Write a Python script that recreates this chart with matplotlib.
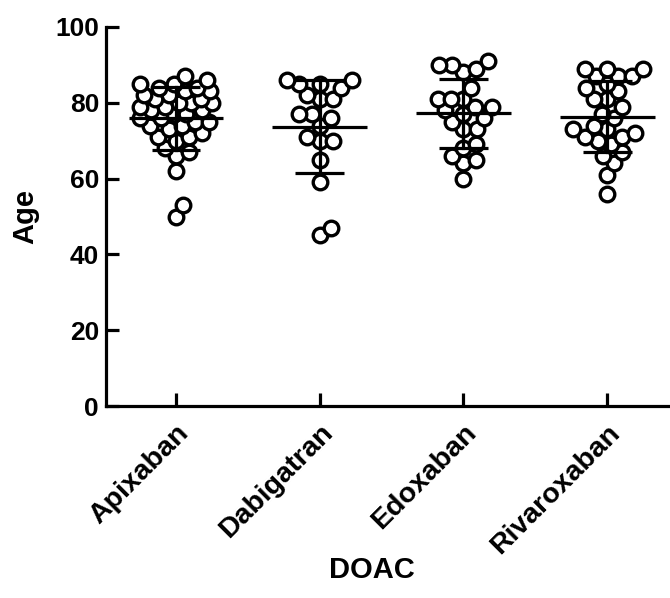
import numpy as np
import matplotlib
matplotlib.use("Agg")
import matplotlib.pyplot as plt

plt.rcParams['font.family'] = ['Liberation Sans', 'DejaVu Sans']
plt.rcParams['font.weight'] = 'bold'

categories = ["Apixaban", "Dabigatran", "Edoxaban", "Rivaroxaban"]
apixaban = [50, 53, 62, 66, 67, 68, 70, 71, 71, 72, 73, 74, 74, 75, 75, 76, 76, 77, 77,
            78, 78, 79, 79, 80, 80, 80, 81, 81, 82, 82, 83, 83, 84, 84, 85, 85, 86, 87]
dabigatran = [45, 47, 59, 65, 70, 70, 71, 74, 76, 77, 77, 81, 81, 82, 84, 85, 85, 86, 86]
edoxaban = [60, 64, 65, 66, 68, 69, 73, 73, 75, 76, 77, 78, 79, 79, 81, 81, 81, 84,
            88, 89, 90, 90, 91]
rivaroxaban = [56, 61, 64, 66, 67, 69, 70, 71, 71, 72, 73, 73, 74, 76, 77, 79, 81, 81,
               83, 84, 85, 87, 87, 87, 89, 89, 89]
groups = [apixaban, dabigatran, edoxaban, rivaroxaban]
yticks = [0, 20, 40, 60, 80, 100]

W, H = 670, 598
fig = plt.figure(figsize=(W / 100, H / 100), dpi=100)
x0, x1, ytop, ybot = 106, 669, 27, 406
ax = fig.add_axes([x0 / W, 1 - ybot / H, (x1 - x0) / W, (ybot - ytop) / H])

xmin, xmax = -0.487, 3.43
ax.set_xlim(xmin, xmax)
ax.set_ylim(0, 100)
xscale = (x1 - x0) / (xmax - xmin)   # px per category unit
yscale = (ybot - ytop) / 100.0        # px per age unit


def swarm(vals, d, maxw):
    vals = np.asarray(vals, float)
    order = np.argsort(vals, kind="stable")
    placed = []
    offs = np.zeros(len(vals))
    for i in order:
        y = vals[i] * yscale
        cands = [0.0]
        for px, py in placed:
            dy = y - py
            if abs(dy) < d:
                dx = np.sqrt(d * d - dy * dy)
                cands += [px + dx, px - dx]
        def ok(c):
            return all((c - px) ** 2 + (y - py) ** 2 >= d * d - 1e-6 for px, py in placed)
        valid = [c for c in cands if abs(c) <= maxw and ok(c)]
        if valid:
            best = min(valid, key=abs)
        else:
            grid = np.linspace(-maxw, maxw, 81)
            def mind(c):
                return min(np.hypot(c - px, y - py) for px, py in placed)
            best = max(grid, key=lambda c: (mind(c), -abs(c)))
        placed.append((best, y))
        offs[i] = best
    return offs / xscale


lw = 2.3
for k, vals in enumerate(groups):
    offs = swarm(vals, 13.5, 36.0)
    ax.plot(k + offs, vals, linestyle="none", marker="o", markersize=10.5,
            markerfacecolor="white", markeredgecolor="black", markeredgewidth=2.4,
            clip_on=False, zorder=3)
    m = np.mean(vals)
    s = np.std(vals, ddof=1)
    ax.plot([k - 0.33, k + 0.33], [m, m], color="black", lw=lw, zorder=4,
            solid_capstyle="butt")
    ax.plot([k, k], [m - s, m + s], color="black", lw=lw, zorder=4)
    for yy in (m - s, m + s):
        ax.plot([k - 0.17, k + 0.17], [yy, yy], color="black", lw=lw, zorder=4,
                solid_capstyle="butt")

for sp in ("top", "right"):
    ax.spines[sp].set_visible(False)
for sp in ("left", "bottom"):
    ax.spines[sp].set_linewidth(lw)
    ax.spines[sp].set_capstyle("projecting")

ax.set_yticks(yticks)
ax.set_yticklabels([str(t) for t in yticks], fontsize=19, fontweight="bold")
ax.set_xticks(range(len(categories)))
ax.set_xticklabels(categories, fontsize=20.5, fontweight="bold", rotation=45,
                   ha="right", va="top", rotation_mode="anchor")
ax.tick_params(axis="y", direction="in", length=9.5, width=lw, pad=5)
ax.tick_params(axis="x", direction="in", length=9.5, width=lw, pad=10)

fig.text(25 / W, 1 - 216 / H, "Age", fontsize=21, fontweight="bold",
         rotation=90, ha="center", va="center")
fig.text(372 / W, 1 - 570 / H, "DOAC", fontsize=21, fontweight="bold",
         ha="center", va="center")

fig.savefig("out.png", dpi=100)
